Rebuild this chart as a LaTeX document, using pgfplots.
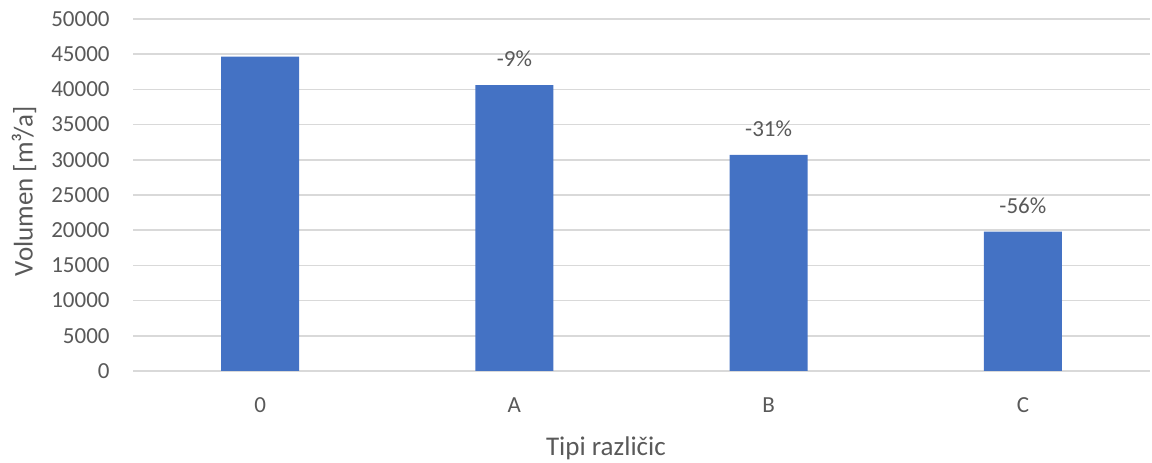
\documentclass[border=0pt]{standalone}
\usepackage{pgfplots}
\pgfplotsset{compat=1.18}
\usepackage{fontspec}
\setmainfont{Carlito}
\definecolor{barblue}{HTML}{4472C4}
\definecolor{txtgray}{HTML}{595959}
\definecolor{gridgray}{HTML}{D9D9D9}
\begin{document}
\begin{tikzpicture}
\begin{axis}[
  name=ax,
  scale only axis,
  width=508.5pt, height=176pt,
  xmin=-0.5, xmax=3.5,
  ymin=0, ymax=50000,
  xtick={0,1,2,3},
  xticklabels={0,A,B,C},
  ytick={0,5000,...,50000},
  scaled y ticks=false,
  /pgf/number format/assume math mode=true,
  yticklabel={\pgfmathprintnumber[fixed,1000 sep={}]{\tick}},
  ymajorgrids,
  grid style={gridgray, line width=0.8pt},
  axis line style={draw=none},
  major tick length=0pt,
  tick label style={font=\fontsize{11.5}{13}\selectfont, text=txtgray, inner sep=0pt},
  yticklabel style={anchor=east, xshift=-11.5pt},
  xticklabel style={anchor=center, yshift=-17pt},
  xlabel={Tipi različic},
  ylabel={Volumen [m³/a]},
  label style={font=\fontsize{13.5}{15}\selectfont, text=txtgray, inner sep=0pt},
  xlabel style={at={(axis description cs:0.465,0)}, anchor=center, yshift=-38.5pt},
  ylabel style={at={(axis description cs:0,0.511)}, anchor=center, yshift=54.5pt},
  clip=false,
]
\addplot[ybar, bar width=39pt, fill=barblue, draw=none] coordinates {
  (0,44650) (1,40600) (2,30700) (3,19790)
};
\addplot[draw=none, mark=none, point meta=explicit symbolic,
  nodes near coords,
  nodes near coords style={anchor=center, yshift=13pt, inner sep=0pt, font=\fontsize{11.5}{13}\selectfont, text=txtgray}]
  coordinates {
  (1,40600) [-9\%]
  (2,30700) [-31\%]
  (3,19790) [-56\%]
};
\end{axis}
\pgfresetboundingbox
\path (ax.south west) ++(-66.5pt,-46pt) coordinate (bl);
\path (ax.north east) ++(1pt,9.5pt) coordinate (tr);
\useasboundingbox (bl) rectangle (tr);
\end{tikzpicture}
\end{document}
